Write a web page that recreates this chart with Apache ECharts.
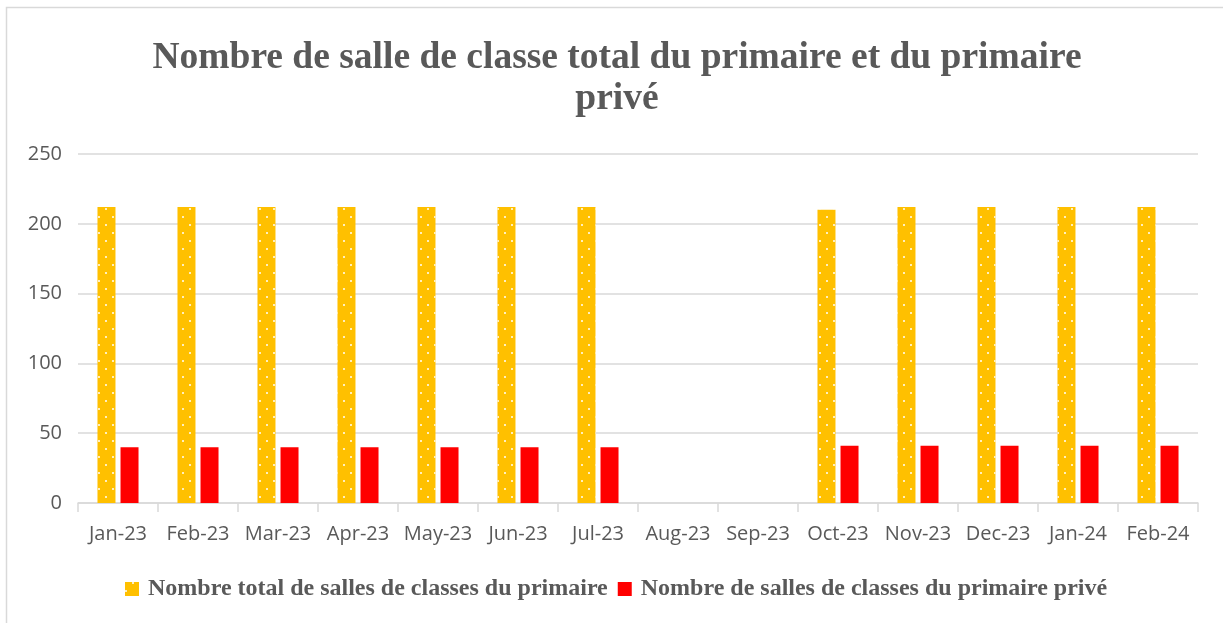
<!DOCTYPE html>
<html>
<head>
<meta charset="utf-8">
<script src="https://cdn.jsdelivr.net/npm/echarts@6/dist/echarts.min.js"></script>
<style>
html,body{margin:0;padding:0;background:#fff;}
#chart{width:1223px;height:623px;}
</style>
</head>
<body>
<div id="chart"></div>
<script>
const titleText = 'Nombre de salle de classe total du primaire et du primaire\nprivé';
const categories = ['Jan-23','Feb-23','Mar-23','Apr-23','May-23','Jun-23','Jul-23','Aug-23','Sep-23','Oct-23','Nov-23','Dec-23','Jan-24','Feb-24'];
const seriesNames = ['Nombre total de salles de classes du primaire', 'Nombre de salles de classes du primaire privé'];
const totalPrimaire = [212,212,212,212,212,212,212,null,null,210,212,212,212,212];
const primairePrive = [40,40,40,40,40,40,40,null,null,41,41,41,41,41];
const yTicks = { min: 0, max: 250, interval: 50 };

const chart = echarts.init(document.getElementById('chart'), null, {renderer:'canvas'});
const grey = '#595959';
chart.setOption({
  animation: false,
  backgroundColor: '#fff',
  graphic: [{
    type: 'rect', silent: true, z: -10,
    shape: { x: 6.5, y: 7.5, width: 1240, height: 640 },
    style: { fill: 'none', stroke: '#d9d9d9', lineWidth: 1.5 }
  }],
  title: {
    text: titleText,
    left: 617, top: 38, textAlign: 'center', padding: 0,
    textStyle: { fontFamily: '"Liberation Serif", "Times New Roman", serif', fontWeight: 'bold', fontSize: 37.5, lineHeight: 41, color: grey }
  },
  legend: {
    data: seriesNames,
    left: 125, top: 577, padding: 0,
    itemWidth: 14, itemHeight: 14, itemGap: 10,
    icon: 'rect',
    textStyle: { fontFamily: '"Liberation Serif", "Times New Roman", serif', fontWeight: 'bold', fontSize: 24, color: grey, padding: [0, 0, 0, 4] }
  },
  grid: { left: 78, right: 25, top: 154, bottom: 120, containLabel: false },
  xAxis: {
    type: 'category', data: categories, boundaryGap: true,
    axisLine: { lineStyle: { color: '#d9d9d9', width: 1.5 } },
    axisTick: { show: true, length: 9, alignWithLabel: false, lineStyle: { color: '#d9d9d9', width: 1.5 } },
    axisLabel: { color: grey, fontFamily: '"Open Sans", sans-serif', fontSize: 20, margin: 21, interval: 0 }
  },
  yAxis: {
    type: 'value', min: yTicks.min, max: yTicks.max, interval: yTicks.interval,
    axisLine: { show: false }, axisTick: { show: false },
    splitLine: { lineStyle: { color: '#d9d9d9', width: 1.5 } },
    axisLabel: { color: grey, fontFamily: '"Open Sans", sans-serif', fontSize: 20, margin: 16 }
  },
  series: [{
    name: seriesNames[0], type: 'bar', data: totalPrimaire,
    barWidth: 18, barGap: '28%',
    itemStyle: {
      color: '#FFC000',
      decal: { symbol: 'circle', symbolSize: 1, color: '#ffffff', dashArrayX: [[2, 12], [0, 7, 2, 5]], dashArrayY: [2, 6] }
    }
  }, {
    name: seriesNames[1], type: 'bar', data: primairePrive,
    barWidth: 18,
    itemStyle: { color: '#FF0000' }
  }]
});
</script>
</body>
</html>
